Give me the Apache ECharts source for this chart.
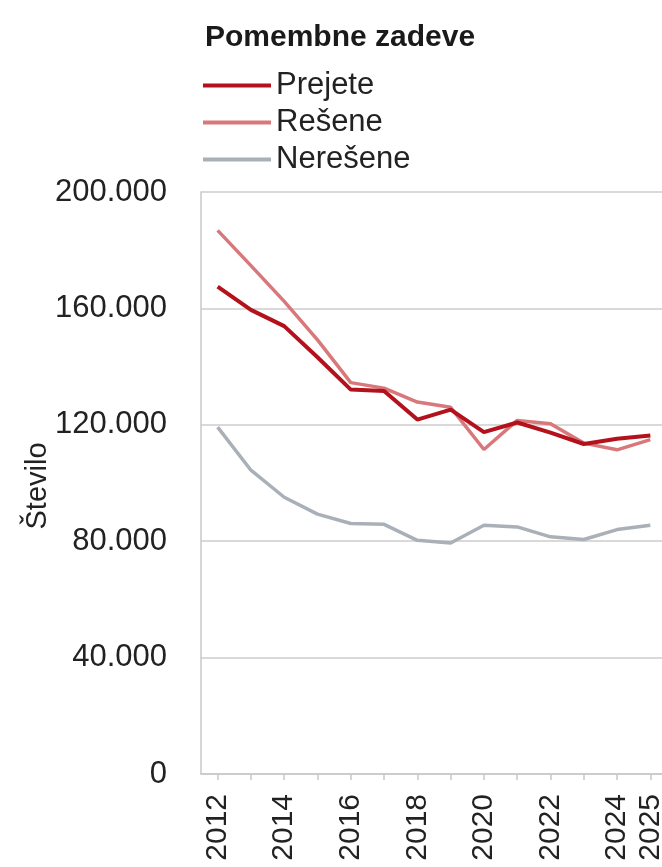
<!DOCTYPE html>
<html>
<head>
<meta charset="utf-8">
<script src="https://cdn.jsdelivr.net/npm/echarts@6/dist/echarts.min.js"></script>
<style>
  html, body { margin: 0; padding: 0; background: #fff; }
  #chart { width: 662px; height: 867px; }
</style>
</head>
<body>
<div id="chart"></div>
<script>
const years = ['2012','2013','2014','2015','2016','2017','2018','2019','2020','2021','2022','2023','2024','2025'];
const prejete   = [167500, 159500, 153900, 143200, 132100, 131600, 121800, 125200, 117500, 120800, 117300, 113400, 115200, 116300];
const resene    = [186800, 174700, 162400, 149200, 134500, 132600, 127800, 126000, 111500, 121500, 120400, 113700, 111400, 114900];
const neresene  = [119200, 104400, 95100, 89300, 86100, 85800, 80300, 79400, 85500, 84900, 81500, 80600, 84000, 85500];
const seriesNames = ['Prejete', 'Rešene', 'Nerešene'];
const titleText = 'Pomembne zadeve';
const yName = 'Število';

const FONT = 'Liberation Sans';
const chart = echarts.init(document.getElementById('chart'), null, { renderer: 'canvas' });

function fmt(v) {
  return String(v).replace(/\B(?=(\d{3})+(?!\d))/g, '.');
}

chart.setOption({
  animation: false,
  backgroundColor: '#ffffff',
  textStyle: { fontFamily: FONT },
  title: {
    text: titleText,
    left: 200,
    top: 18,
    textStyle: { fontFamily: FONT, fontSize: 30, fontWeight: 'bold', color: '#1a1a1a' }
  },
  legend: {
    orient: 'vertical',
    left: 198,
    top: 65,
    itemWidth: 68,
    itemHeight: 4,
    itemGap: 6,
    icon: 'rect',
    textStyle: { fontFamily: FONT, fontSize: 31, color: '#222', padding: [0, 0, 0, 0] },
    data: seriesNames
  },
  graphic: [{
    type: 'text',
    x: 38,
    y: 486,
    rotation: Math.PI / 2,
    style: {
      text: yName,
      fontFamily: FONT,
      fontSize: 29,
      fill: '#222',
      align: 'center',
      verticalAlign: 'middle'
    }
  }],
  grid: { left: 201, top: 192, width: 466, bottom: 93, containLabel: false, outerBoundsMode: 'none' },
  xAxis: {
    type: 'category',
    data: years,
    boundaryGap: true,
    axisLine: { show: true, lineStyle: { color: '#c8c8c8', width: 1.5 } },
    axisTick: { show: true, alignWithLabel: true, interval: 0, length: 6, lineStyle: { color: '#c8c8c8', width: 1.5 } },
    axisLabel: {
      rotate: 90,
      margin: 20,
      fontFamily: FONT,
      fontSize: 30,
      color: '#222',
      interval: function (i) { return i % 2 === 0 || i === years.length - 1; }
    },
    splitLine: { show: false }
  },
  yAxis: {
    type: 'value',
    min: 0,
    max: 200000,
    interval: 40000,
    axisLine: { show: true, lineStyle: { color: '#c8c8c8', width: 1.5 } },
    axisTick: { show: false },
    axisLabel: { margin: 34, fontFamily: FONT, fontSize: 31, color: '#222', formatter: fmt },
    splitLine: { show: true, lineStyle: { color: '#cccccc', width: 1.5 } }
  },
  series: [
    {
      name: seriesNames[0], type: 'line', data: prejete, z: 4,
      showSymbol: false, symbol: 'none',
      lineStyle: { color: '#b3121c', width: 4 }, itemStyle: { color: '#b3121c' }
    },
    {
      name: seriesNames[1], type: 'line', data: resene, z: 3,
      showSymbol: false, symbol: 'none',
      lineStyle: { color: '#d9787b', width: 3.5 }, itemStyle: { color: '#d9787b' }
    },
    {
      name: seriesNames[2], type: 'line', data: neresene, z: 2,
      showSymbol: false, symbol: 'none',
      lineStyle: { color: '#aab0b7', width: 3.5 }, itemStyle: { color: '#aab0b7' }
    }
  ]
});
</script>
</body>
</html>
